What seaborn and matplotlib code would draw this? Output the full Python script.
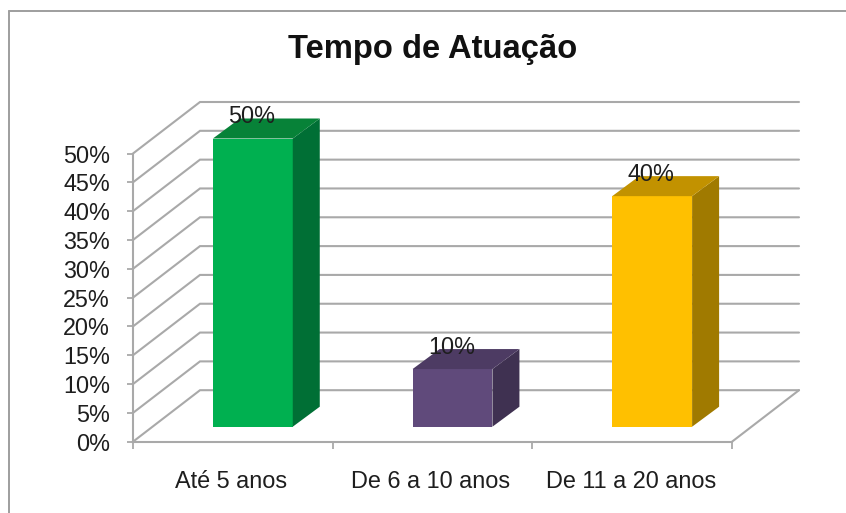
import matplotlib
matplotlib.use("Agg")
import matplotlib.pyplot as plt
from matplotlib.lines import Line2D
from matplotlib.transforms import ScaledTranslation
import numpy as np
import pandas as pd
import seaborn as sns

categories = ["Até 5 anos", "De 6 a 10 anos", "De 11 a 20 anos"]
values = [50, 10, 40]
labels = ["50%", "10%", "40%"]
y_ticks = [0, 5, 10, 15, 20, 25, 30, 35, 40, 45, 50]
front_colors = ["#00B050", "#604A7B", "#FFC000"]
side_colors = ["#006F35", "#3F3151", "#A07A00"]
top_colors = ["#078238", "#4D3B63", "#C29200"]
title = "Tempo de Atuação"

W, H = 846, 513
GRID = "#A9A9A9"
TEXT = "#1E1E1E"

sns.set_theme(style="white")
plt.rcParams["font.family"] = ["Liberation Sans", "DejaVu Sans"]

fig = plt.figure(figsize=(W / 100, H / 100), dpi=100)
left, right, top, bottom = 133, 732, 153.5, 441.7
ax = fig.add_axes([left / W, 1 - bottom / H, (right - left) / W, (bottom - top) / H])
fig.patch.set_facecolor("white")

df = pd.DataFrame({"cat": categories, "val": values})
sns.barplot(data=df, x="cat", y="val", hue="cat", palette=front_colors, saturation=1,
            width=0.4, legend=False, ax=ax, zorder=3, linewidth=0)

ax.set_xlim(-0.5, 2.5)
ax.set_ylim(0, 50)
px_x = (right - left) / 3      # pixels per category
px_y = (bottom - top) / 50     # pixels per percent

# perspective depth of the back wall and placement of bars in the floor
wall_dx, wall_dy = 67 / px_x, 51.5 / px_y
shift_dx, shift_dy = 20 / px_x, 15 / px_y
bar_dx, bar_dy = 27 / px_x, 20 / px_y

# walls
for t in y_ticks:
    ax.plot([-0.5, -0.5 + wall_dx, 2.5 + wall_dx], [t, t + wall_dy, t + wall_dy],
            color=GRID, lw=1.5, clip_on=False, zorder=1, solid_joinstyle="miter")
ax.plot([2.5, 2.5 + wall_dx], [0, wall_dy], color=GRID, lw=1.5, clip_on=False, zorder=1)

# bars
for p, side, topc, lab in zip(ax.patches, side_colors, top_colors, labels):
    p.set_x(p.get_x() + shift_dx)
    p.set_y(shift_dy)
    p.set_clip_on(False)
    x0, x1 = p.get_x(), p.get_x() + p.get_width()
    y0, y1 = p.get_y(), p.get_y() + p.get_height()
    ax.fill([x1, x1 + bar_dx, x1 + bar_dx, x1], [y0, y0 + bar_dy, y1 + bar_dy, y1],
            color=side, lw=0, clip_on=False, zorder=3)
    ax.fill([x0, x1, x1 + bar_dx, x0 + bar_dx], [y1, y1, y1 + bar_dy, y1 + bar_dy],
            color=topc, lw=0, clip_on=False, zorder=3)
    ax.text((x0 + x1) / 2 - 1 / px_x, y1 + 22 / px_y, lab, ha="center", va="center",
            fontsize=16.8, color=TEXT, zorder=5, clip_on=False)

# axes
for s in ("top", "right"):
    ax.spines[s].set_visible(False)
for s in ("left", "bottom"):
    ax.spines[s].set_color(GRID)
    ax.spines[s].set_linewidth(1.5)
ax.set_xlabel("")
ax.set_ylabel("")
ax.set_yticks(y_ticks)
ax.set_yticklabels([f"{t}%" for t in y_ticks])
ax.tick_params(axis="y", which="major", left=True, length=4.5, width=1.3, color=GRID,
               pad=12, labelsize=16.8, labelcolor=TEXT)
ax.set_xticks(range(len(categories)))
ax.set_xticklabels(categories)
ax.set_xticks(np.arange(len(categories) + 1) - 0.5, minor=True)
ax.tick_params(axis="x", which="major", bottom=False, length=0, pad=20.5, labelsize=16.9,
               labelcolor=TEXT)
ax.tick_params(axis="x", which="minor", bottom=True, length=5, width=1.3, color=GRID)
for lab in ax.get_xticklabels():
    lab.set_transform(lab.get_transform() + ScaledTranslation(-0.015, 0, fig.dpi_scale_trans))
ax.patch.set_alpha(0)

# chart frame
for xs, ys in (([9, 9], [11, H]), ([9, W], [11, 11])):
    fig.add_artist(Line2D([x / W for x in xs], [1 - y / H for y in ys], color="#9E9E9E", lw=1.4))

fig.text(433 / W, 1 - 49.5 / H, title, ha="center", va="center", fontsize=23.6,
         fontweight="bold", color="#111111")

fig.savefig("out.png", dpi=100)
